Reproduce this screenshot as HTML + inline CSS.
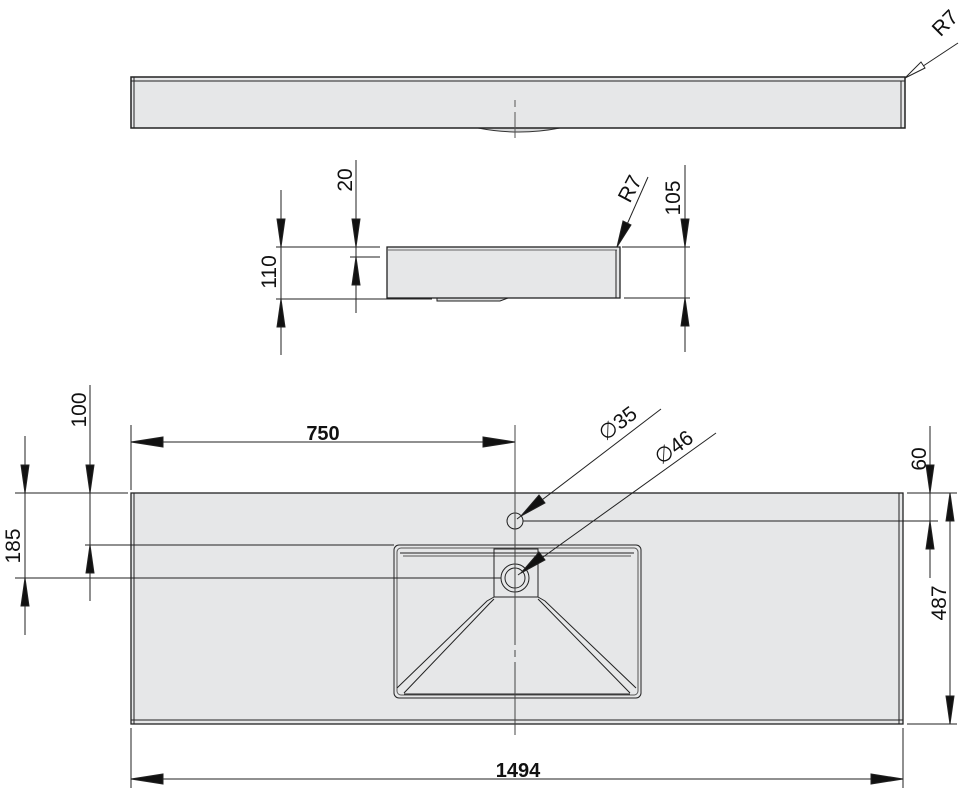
<!DOCTYPE html>
<html><head><meta charset="utf-8"><style>
html,body{margin:0;padding:0;background:#fff;}
svg{display:block;}
text{font-family:"Liberation Sans",Arial,sans-serif;fill:#111;}
</style></head><body>
<svg width="961" height="793" viewBox="0 0 961 793" xmlns="http://www.w3.org/2000/svg">
<g stroke="#222" stroke-width="1" fill="none">
<!-- TOP VIEW -->
<path d="M478 128 Q519 136 560 128" fill="#d8d9da" stroke="#333"/>
<rect x="131" y="77" width="774" height="51" fill="#e6e7e8" stroke="#222" stroke-width="1.5"/>
<line x1="131" y1="81" x2="905" y2="81"/>
<line x1="134" y1="77" x2="134" y2="128"/>
<line x1="901" y1="81" x2="901" y2="128"/>
<line x1="515" y1="100" x2="515" y2="107" stroke="#555"/>
<line x1="515" y1="112" x2="515" y2="138" stroke="#555"/>
<line x1="905" y1="78" x2="958" y2="43"/>
<polygon points="905,78 921,62 925,68" fill="#fff"/>

<!-- SIDE VIEW -->
<path d="M437 298 L437 301 L500 301 L508 298" fill="#d8d9da"/>
<rect x="387" y="247" width="233" height="51" fill="#e6e7e8" stroke="#222" stroke-width="1.3"/>
<line x1="387" y1="250" x2="617" y2="250" stroke="#666"/>
<line x1="616" y1="250" x2="616" y2="298"/>
<line x1="276" y1="247" x2="380" y2="247"/>
<line x1="350" y1="257" x2="380" y2="257"/>
<line x1="276" y1="299" x2="432" y2="299"/>
<line x1="622" y1="247" x2="690" y2="247"/>
<line x1="624" y1="298" x2="690" y2="298"/>
<line x1="281" y1="190" x2="281" y2="355"/>
<polygon points="281,247 277,219 285,219" fill="#111"/>
<polygon points="281,299 277,327 285,327" fill="#111"/>
<line x1="356" y1="160" x2="356" y2="313"/>
<polygon points="356,247 352,219 360,219" fill="#111"/>
<polygon points="356,257 352,285 360,285" fill="#111"/>
<line x1="685" y1="165" x2="685" y2="352"/>
<polygon points="685,247 681,219 689,219" fill="#111"/>
<polygon points="685,298 681,326 689,326" fill="#111"/>
<line x1="617" y1="247" x2="648" y2="177"/>
<polygon points="617,247 623,221 631,225" fill="#111"/>

<!-- PLAN VIEW -->
<rect x="131" y="493" width="772" height="231" fill="#e6e7e8" stroke="#222" stroke-width="1.3"/>
<line x1="134" y1="493" x2="134" y2="724"/>
<line x1="899" y1="493" x2="899" y2="724"/>
<line x1="131" y1="720" x2="903" y2="720"/>
<rect x="394" y="545" width="247" height="153" rx="5" stroke="#222"/>
<rect x="397" y="548" width="241" height="147" rx="4" stroke="#555"/>
<line x1="400" y1="553" x2="634" y2="553"/>
<line x1="403" y1="556" x2="631" y2="556" stroke="#555"/>
<line x1="404" y1="694" x2="630" y2="694"/>
<rect x="494" y="549" width="44" height="48" stroke="#222"/>
<path d="M494 597 L487 601 L397 688"/>
<path d="M494 599 L490 603 L404 693"/>
<path d="M538 597 L545 601 L636 688"/>
<path d="M538 599 L542 603 L630 693"/>
<circle cx="515" cy="578" r="14" fill="#e6e7e8"/>
<circle cx="515" cy="578" r="10"/>
<circle cx="515" cy="521" r="8" fill="#e6e7e8"/>
<line x1="515" y1="425" x2="515" y2="645" stroke="#444"/>
<line x1="515" y1="650" x2="515" y2="657" stroke="#444"/>
<line x1="515" y1="662" x2="515" y2="735" stroke="#444"/>
<line x1="131" y1="425" x2="131" y2="490"/>
<line x1="131" y1="728" x2="131" y2="788"/>
<line x1="903" y1="728" x2="903" y2="788"/>
<line x1="15" y1="493" x2="128" y2="493"/>
<line x1="85" y1="545" x2="394" y2="545"/>
<line x1="15" y1="578" x2="501" y2="578"/>
<line x1="907" y1="493" x2="957" y2="493"/>
<line x1="523" y1="521" x2="938" y2="521"/>
<line x1="907" y1="724" x2="957" y2="724"/>
<line x1="131" y1="442" x2="515" y2="442"/>
<polygon points="131,442 163,437 163,447" fill="#111"/>
<polygon points="515,442 483,437 483,447" fill="#111"/>
<line x1="131" y1="779" x2="903" y2="779"/>
<polygon points="131,779 163,774 163,784" fill="#111"/>
<polygon points="903,779 871,774 871,784" fill="#111"/>
<line x1="25" y1="436" x2="25" y2="635"/>
<polygon points="25,493 21,465 29,465" fill="#111"/>
<polygon points="25,578 21,606 29,606" fill="#111"/>
<line x1="90" y1="385" x2="90" y2="601"/>
<polygon points="90,493 86,465 94,465" fill="#111"/>
<polygon points="90,545 86,573 94,573" fill="#111"/>
<line x1="930" y1="426" x2="930" y2="578"/>
<polygon points="930,493 926,465 934,465" fill="#111"/>
<polygon points="930,521 926,549 934,549" fill="#111"/>
<line x1="950" y1="493" x2="950" y2="724"/>
<polygon points="950,493 946,521 954,521" fill="#111"/>
<polygon points="950,724 946,696 954,696" fill="#111"/>
<line x1="661" y1="409" x2="517" y2="519"/>
<polygon points="521,516 539,495 545,503" fill="#111"/>
<line x1="716" y1="433" x2="518" y2="575"/>
<polygon points="521,573 539,552 545,560" fill="#111"/>
</g>
<text font-size="21" transform="translate(950,28) rotate(-45)" text-anchor="middle">R7</text>
<text font-size="21" transform="translate(352,180) rotate(-90)" text-anchor="middle">20</text>
<text font-size="21" transform="translate(276,272) rotate(-90)" text-anchor="middle">110</text>
<text font-size="21" transform="translate(680,198) rotate(-90)" text-anchor="middle">105</text>
<text font-size="21" transform="translate(636,192) rotate(-62)" text-anchor="middle">R7</text>
<text font-size="21" transform="translate(86,410) rotate(-90)" text-anchor="middle">100</text>
<text font-size="21" transform="translate(20,546) rotate(-90)" text-anchor="middle">185</text>
<text font-size="21" transform="translate(926,459) rotate(-90)" text-anchor="middle">60</text>
<text font-size="21" transform="translate(946,603) rotate(-90)" text-anchor="middle">487</text>
<text x="323" y="440" font-size="20" font-weight="bold" text-anchor="middle">750</text>
<text x="518" y="777" font-size="20" font-weight="bold" text-anchor="middle">1494</text>
<text font-size="21" transform="translate(622,429) rotate(-37)" text-anchor="middle">∅35</text>
<text font-size="21" transform="translate(678,453) rotate(-36)" text-anchor="middle">∅46</text>
</svg>
</body></html>
